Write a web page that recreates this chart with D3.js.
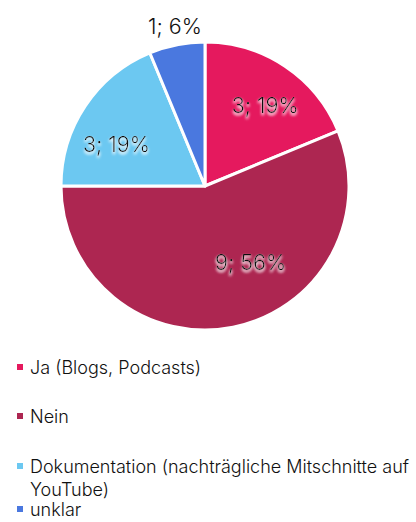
<!DOCTYPE html>
<html>
<head>
<meta charset="utf-8">
<script src="https://cdn.jsdelivr.net/npm/d3@7"></script>
<style>
  body { margin: 0; background: #fff; }
  svg { display: block; font-family: Inter, "Noto Sans", sans-serif; }
</style>
</head>
<body>
<div id="vis"></div>
<script>
//-- Data
var categories = ["Ja (Blogs, Podcasts)", "Nein", "Dokumentation (nachträgliche Mitschnitte auf YouTube)", "unklar"];
var counts = [3, 9, 3, 1];
var percents = ["19%", "56%", "19%", "6%"];
var colors = ["#e5195e", "#ad2651", "#6cc8f1", "#4a78df"];

//-- Setup
var width = 416;
var height = 522;
var cx = 205, cy = 186, radius = 144;

var svg = d3.select("#vis").append("svg")
  .attr("width", width)
  .attr("height", height);

var defs = svg.append("defs");
var glow = defs.append("filter").attr("id", "glow")
  .attr("x", "-20%").attr("y", "-30%").attr("width", "140%").attr("height", "160%");
glow.append("feGaussianBlur").attr("in", "SourceAlpha").attr("stdDeviation", 1.5).attr("result", "b");
glow.append("feOffset").attr("in", "b").attr("dx", 0).attr("dy", 1.5).attr("result", "o");
glow.append("feFlood").attr("flood-color", "#ffffff").attr("flood-opacity", 0.9);
glow.append("feComposite").attr("in2", "o").attr("operator", "in").attr("result", "s");
var merge = glow.append("feMerge");
merge.append("feMergeNode").attr("in", "s");
merge.append("feMergeNode").attr("in", "s");
merge.append("feMergeNode").attr("in", "SourceGraphic");

var pie = d3.pie().sort(null).value(function(d) { return d; });
var arcs = pie(counts);

var arc = d3.arc().innerRadius(0).outerRadius(radius);

var g = svg.append("g").attr("transform", "translate(" + cx + "," + cy + ")");

g.selectAll("path")
  .data(arcs)
  .enter()
  .append("path")
  .attr("d", arc)
  .attr("fill", function(d, i) { return colors[i]; })
  .attr("stroke", "#fff")
  .attr("stroke-width", 3)
  .attr("stroke-linejoin", "round");

// label placement: radius factor and angle nudge (radians) per slice
var labelR = [0.70, 0.62, 0.68, 1.13];
var labelNudge = [0.05, -0.34, -0.15, 0.01];

g.selectAll("text.lbl")
  .data(arcs)
  .enter()
  .append("text")
  .attr("class", "lbl")
  .attr("x", function(d, i) {
    var a = (d.startAngle + d.endAngle) / 2 + labelNudge[i];
    return Math.sin(a) * radius * labelR[i];
  })
  .attr("y", function(d, i) {
    var a = (d.startAngle + d.endAngle) / 2 + labelNudge[i];
    return -Math.cos(a) * radius * labelR[i];
  })
  .attr("dy", "0.35em")
  .attr("text-anchor", "middle")
  .attr("font-size", 21.5)
  .attr("font-weight", 300)
  .attr("fill", "#111")
  .attr("filter", function(d, i) { return i < 3 ? "url(#glow)" : null; })
  .text(function(d, i) { return counts[i] + "; " + percents[i]; });

//-- Legend
var legendY = [368, 417, 467, 510];
var legend = svg.append("g");

var items = legend.selectAll("g")
  .data(categories)
  .enter()
  .append("g")
  .attr("transform", function(d, i) { return "translate(0," + legendY[i] + ")"; });

items.append("rect")
  .attr("x", 17)
  .attr("y", -4)
  .attr("width", 6)
  .attr("height", 6)
  .attr("fill", function(d, i) { return colors[i]; });

items.append("text")
  .attr("x", 30)
  .attr("font-size", 18)
  .attr("font-weight", 300)
  .attr("fill", "#111")
  .each(function(d) {
    var t = d3.select(this);
    var parts = d.indexOf("YouTube") > 0 ? [d.replace(" YouTube)", ""), "YouTube)"] : [d];
    parts.forEach(function(p, k) {
      t.append("tspan").attr("x", 30).attr("dy", k === 0 ? "0.35em" : 23).text(p);
    });
  });
</script>
</body>
</html>
